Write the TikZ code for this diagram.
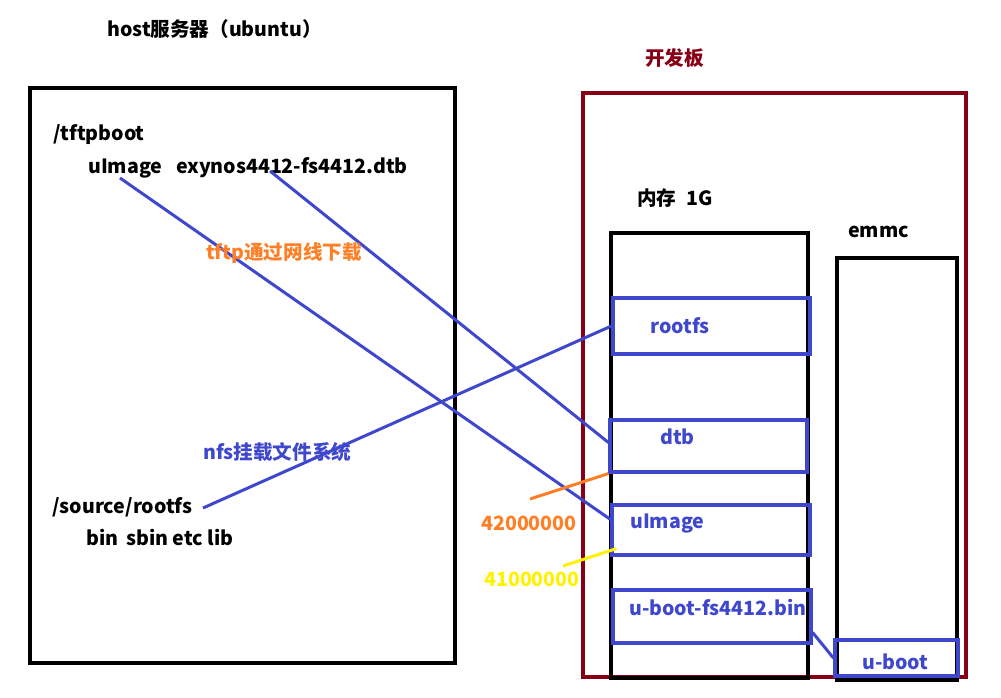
\documentclass[tikz,border=0pt]{standalone}
\usepackage{fontspec}
\setmainfont{Noto Sans CJK SC}
\usepackage{xcolor}
\usetikzlibrary{positioning,calc}
\definecolor{PaintBlue}{RGB}{63,72,204}

\begin{document}
\begin{tikzpicture}[x=1pt,y=-1pt]
	\definecolor{bdred}{RGB}{136,0,21}
	\definecolor{dlorange}{RGB}{255,127,39}
	\definecolor{addryellow}{RGB}{255,242,0}
	\tikzset{
		frame/.style={
			shape=rectangle,
			draw=black,
			line width=3.2pt,
			inner sep=0pt
		},
		region/.style={frame, draw=PaintBlue},
		txt/.style={
			inner sep=0pt,
			anchor=base west,
			font=\fontsize{19.6}{23}\selectfont\bfseries
		},
		link/.style={draw=PaintBlue,line width=3pt}
	}
	\useasboundingbox (0,0) rectangle (1001,697);
	
	% host side
	\node[frame, minimum width=425pt, minimum height=575pt] (host) at (242.5,375.5) {};
	\node[txt] (hostname) at (107,36) {host服务器（ubuntu）};
	\node[txt] (tftpdir) at (53,140) {/tftpboot};
	\node[txt] (tftpfiles) at (88,173) {uImage\hspace{14pt}exynos4412-fs4412.dtb};
	\node[txt] (nfsdir) at (52,513) {/source/rootfs};
	\node[txt] (nfsfiles) at (86,545) {bin\hspace{8pt}sbin etc lib};
	
	% board side
	\node[frame, draw=bdred, minimum width=383pt, minimum height=584pt] (board) at (774.5,385) {};
	\node[txt, text=bdred] (boardname) at (645,65) {开发板};
	\node[frame, minimum width=197pt, minimum height=445pt] (mem) at (709.5,455.5) {};
	\node[txt] (memname) at (637,205) {内存\hspace{10pt}1G};
	\node[frame, minimum width=120pt, minimum height=422pt] (emmc) at (897,469) {};
	\node[txt] (emmcname) at (848,237) {emmc};
	
	\node[region, minimum width=197pt, minimum height=56pt] (rootbox) at (711.5,326) {};
	\node[region, minimum width=197pt, minimum height=52pt] (dtbbox) at (708.5,446) {};
	\node[region, minimum width=198pt, minimum height=50pt] (uimgbox) at (711,530) {};
	\node[region, minimum width=198pt, minimum height=53pt] (ubootbin) at (712,616.5) {};
	\node[region, minimum width=123pt, minimum height=36pt] (uboot) at (896.5,658) {};
	\node[txt, text=PaintBlue] (rootlbl) at (650,333) {rootfs};
	\node[txt, text=PaintBlue] (dtblbl) at (660,444) {dtb};
	\node[txt, text=PaintBlue] (uimglbl) at (630,528) {uImage};
	\node[txt, text=PaintBlue] (ubootbinlbl) at (629,615) {u-boot-fs4412.bin};
	\node[txt, text=PaintBlue] (ubootlbl) at (862,669) {u-boot};
	
	% transfers
	\coordinate (uimgsrc) at (120,178);
	\coordinate (dtbsrc) at (270,171);
	\coordinate (rootsrc) at (203,508);
	\coordinate (addr42) at (530,499);
	\coordinate (addr41) at (563,566);
	\draw[link] (uimgsrc) -- (uimgbox.174);
	\draw[link] (dtbsrc) -- (dtbbox.178);
	\draw[link] (rootsrc) -- (rootbox.west);
	\draw[link] (ubootbin.-9) -- (uboot.west);
	\draw[link, draw=dlorange] (addr42) -- (dtbbox.south west);
	\draw[link, draw=addryellow] (addr41) -- ($(uimgbox.south west)+(6,-8)$);
	
	\node[txt, text=dlorange] (tftplbl) at (206,259) {tftp通过网线下载};
	\node[txt, text=PaintBlue] (nfslbl) at (203,459) {nfs挂载文件系统};
	\node[txt, text=dlorange] (addr42lbl) at (481,530) {42000000};
	\node[txt, text=addryellow] (addr41lbl) at (484,586) {41000000};
\end{tikzpicture}
\end{document}
